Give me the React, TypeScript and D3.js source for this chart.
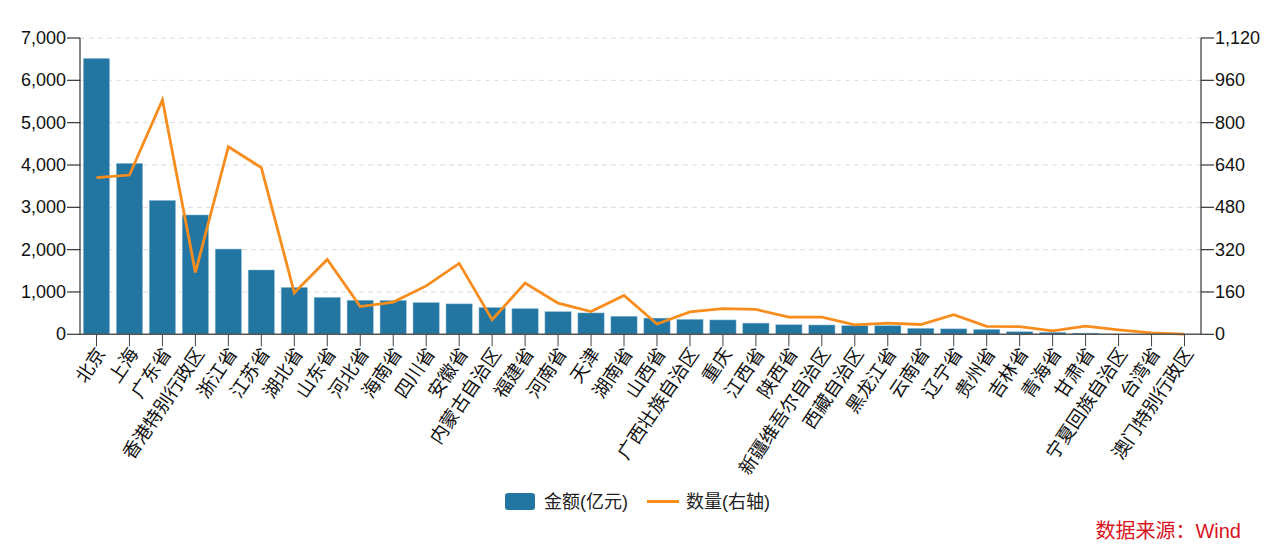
import React from "react";
import * as d3 from "d3";

const categories = [
  "北京", "上海", "广东省", "香港特别行政区", "浙江省", "江苏省", "湖北省", "山东省", "河北省", "海南省",
  "四川省", "安徽省", "内蒙古自治区", "福建省", "河南省", "天津", "湖南省", "山西省", "广西壮族自治区", "重庆",
  "江西省", "陕西省", "新疆维吾尔自治区", "西藏自治区", "黑龙江省", "云南省", "辽宁省", "贵州省", "吉林省", "青海省",
  "甘肃省", "宁夏回族自治区", "台湾省", "澳门特别行政区",
];

const amounts = [
  6520, 4040, 3165, 2820, 2015, 1520, 1110, 875, 805, 803,
  752, 720, 636, 608, 538, 506, 427, 383, 355, 340,
  265, 228, 221, 206, 205, 142, 130, 118, 63, 48,
  28, 3, 0, 0,
];

const counts = [
  592, 602, 886, 234, 709, 630, 157, 283, 105, 122,
  183, 268, 55, 194, 118, 86, 147, 39, 85, 97,
  94, 65, 65, 36, 42, 37, 74, 30, 29, 13,
  31, 17, 5, 1,
];

const leftTicks = [0, 1000, 2000, 3000, 4000, 5000, 6000, 7000];
const rightTicks = [0, 160, 320, 480, 640, 800, 960, 1120];

const seriesNames = ["金额(亿元)", "数量(右轴)"];
const sourceText = "数据来源：Wind";

const W = 1280;
const H = 560;
const X0 = 80;
const X1 = 1201;
const Y0 = 334.3;
const Y1 = 38;
const BAR = "#2376a2";
const LINE = "#f88d1e";
const FONT = "'Liberation Sans', Arial, 'Noto Sans CJK SC', sans-serif";
const fmt = d3.format(",");

export default function App() {
  const x = d3.scaleBand<string>().domain(categories).range([X0, X1]).paddingInner(0.2).paddingOuter(0.1);
  const yL = d3.scaleLinear().domain([0, 7000]).range([Y0, Y1]);
  const yR = d3.scaleLinear().domain([0, 1120]).range([Y0, Y1]);
  const cx = (c: string) => (x(c) as number) + x.bandwidth() / 2;
  const line = d3
    .line<number>()
    .x((_, i) => cx(categories[i]))
    .y((d) => yR(d));

  return (
    <svg width={W} height={H} style={{ position: "absolute", left: 0, top: 0, fontFamily: FONT }}>
      <rect x={0} y={0} width={W} height={H} fill="#fff" />
      {/* grid */}
      {leftTicks.filter((t) => t > 0).map((t) => (
        <line key={t} x1={X0} x2={X1} y1={yL(t)} y2={yL(t)} stroke="#dcdcdc" strokeWidth={1} strokeDasharray="5,4" />
      ))}
      {/* bars */}
      {categories.map((c, i) => (
        <rect key={c} x={x(c)} y={yL(amounts[i])} width={x.bandwidth()} height={Y0 - yL(amounts[i])} fill={BAR} stroke="#a9cde0" strokeWidth={0.6} strokeOpacity={0.8} />
      ))}
      {/* line */}
      <path d={line(counts) || ""} fill="none" stroke={LINE} strokeWidth={2.8} strokeLinejoin="miter" />
      {/* left axis */}
      <line x1={X0} x2={X0} y1={Y1} y2={Y0} stroke="#333" strokeWidth={1.2} />
      {leftTicks.map((t) => (
        <g key={t}>
          <line x1={X0 - 13} x2={X0} y1={yL(t)} y2={yL(t)} stroke="#333" strokeWidth={1.2} />
          <text x={X0 - 14} y={yL(t)} textAnchor="end" dominantBaseline="central" fontSize={18} fill="#111">{fmt(t)}</text>
        </g>
      ))}
      {/* right axis */}
      <line x1={X1} x2={X1} y1={Y1} y2={Y0} stroke="#333" strokeWidth={1.2} />
      {rightTicks.map((t) => (
        <g key={t}>
          <line x1={X1} x2={X1 + 13} y1={yR(t)} y2={yR(t)} stroke="#333" strokeWidth={1.2} />
          <text x={X1 + 14} y={yR(t)} textAnchor="start" dominantBaseline="central" fontSize={18} fill="#111">{fmt(t)}</text>
        </g>
      ))}
      {/* bottom axis */}
      <line x1={X0} x2={X1} y1={Y0} y2={Y0} stroke="#555" strokeWidth={1.5} />
      {categories.map((c) => (
        <g key={c}>
          <line x1={cx(c)} x2={cx(c)} y1={Y0} y2={Y0 + 12} stroke="#444" strokeWidth={1} />
          <text
            transform={`translate(${cx(c) + 3},${349}) rotate(-56)`}
            textAnchor="end"
            dominantBaseline="central"
            fontSize={18.5}
            fill="#111"
            fontFamily="'Noto Sans CJK SC', sans-serif"
          >
            {c}
          </text>
        </g>
      ))}
      {/* legend */}
      <rect x={505} y={493} width={30} height={17} rx={3} fill={BAR} />
      <text x={544} y={502} dominantBaseline="central" fontSize={18} fill="#222">{seriesNames[0]}</text>
      <line x1={647} x2={679} y1={501.5} y2={501.5} stroke={LINE} strokeWidth={3} />
      <text x={686} y={502} dominantBaseline="central" fontSize={18} fill="#222">{seriesNames[1]}</text>
      {/* source */}
      <text x={1241} y={531} textAnchor="end" dominantBaseline="central" fontSize={20} fill="#d9141e">{sourceText}</text>
    </svg>
  );
}
